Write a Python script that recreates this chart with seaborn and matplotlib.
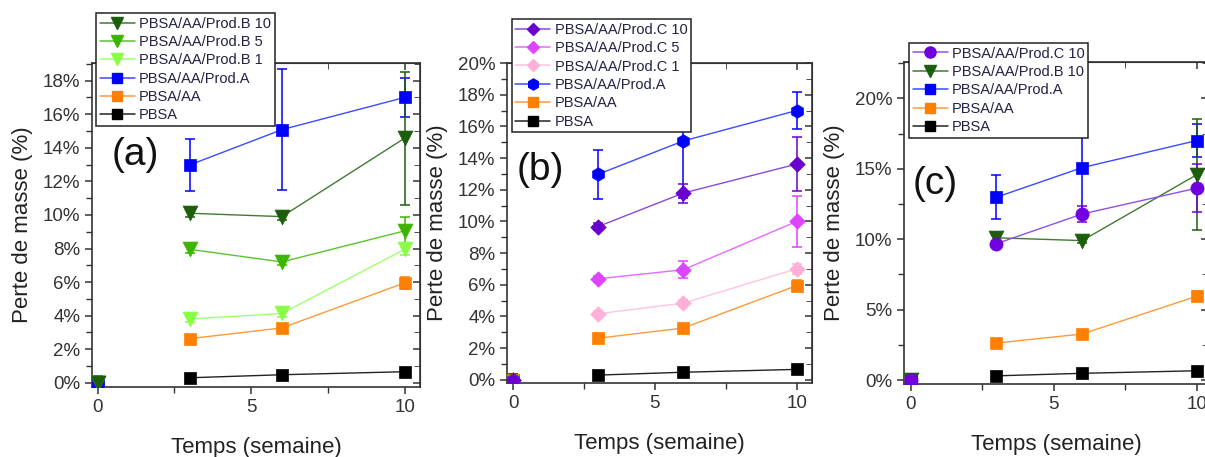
import pandas as pd
import matplotlib
matplotlib.use('Agg')
import matplotlib.pyplot as plt
import seaborn as sns
from matplotlib.lines import Line2D
from matplotlib.ticker import MultipleLocator, PercentFormatter

# mass loss (%) after 0, 3, 6 and 10 weeks
weeks = [0, 3, 6, 10]

pbsa = [0, 0.30, 0.48, 0.66]
pbsa_err = [0, 0.05, 0.05, 0.10]
pbsa_aa = [0, 2.63, 3.27, 5.95]
pbsa_aa_err = [0.1, 0.15, 0.15, 0.35]
prod_a = [0, 12.98, 15.08, 17.00]
prod_a_err = [0.4, 1.55, 3.60, 1.15]
prod_b1 = [0, 3.80, 4.13, 7.95]
prod_b1_err = [0, 0.20, 0.20, 0.35]
prod_b5 = [0, 7.95, 7.20, 9.05]
prod_b5_err = [0, 0.20, 0.20, 0.80]
prod_b10 = [0, 10.10, 9.90, 14.57]
prod_b10_err = [0, 0.20, 0.20, 3.95]
prod_c1 = [0, 4.17, 4.84, 7.01]
prod_c1_err = [0, 0.20, 0.20, 0.30]
prod_c5 = [0, 6.38, 6.95, 10.00]
prod_c5_err = [0, 0.20, 0.55, 1.60]
prod_c10 = [0, 9.68, 11.79, 13.62]
prod_c10_err = [0, 0.20, 0.60, 1.70]

sns.set_style('ticks')
plt.rcParams['font.family'] = ['Liberation Sans', 'DejaVu Sans']

# label, values, errors, marker, marker colour, line colour
panel_a = [
    ('PBSA/AA/Prod.B 10', prod_b10, prod_b10_err, 'v', '#1c5e0c', '#3f7b30'),
    ('PBSA/AA/Prod.B 5', prod_b5, prod_b5_err, 'v', '#3cb400', '#5cc232'),
    ('PBSA/AA/Prod.B 1', prod_b1, prod_b1_err, 'v', '#88ff44', '#a0ff70'),
    ('PBSA/AA/Prod.A', prod_a, prod_a_err, 's', '#0000ff', '#3a4cff'),
    ('PBSA/AA', pbsa_aa, pbsa_aa_err, 's', '#ff8000', '#ff9a3a'),
    ('PBSA', pbsa, pbsa_err, 's', '#000000', '#222222'),
]
panel_b = [
    ('PBSA/AA/Prod.C 10', prod_c10, prod_c10_err, 'D', '#6a00d0', '#8a48e4'),
    ('PBSA/AA/Prod.C 5', prod_c5, prod_c5_err, 'D', '#dd44ff', '#e46cff'),
    ('PBSA/AA/Prod.C 1', prod_c1, prod_c1_err, 'D', '#ffb0d8', '#ffc4e2'),
    ('PBSA/AA/Prod.A', prod_a, prod_a_err, 'h', '#0000ff', '#3a4cff'),
    ('PBSA/AA', pbsa_aa, pbsa_aa_err, 's', '#ff8000', '#ff9a3a'),
    ('PBSA', pbsa, pbsa_err, 's', '#000000', '#222222'),
]
panel_c = [
    ('PBSA/AA/Prod.C 10', prod_c10, prod_c10_err, 'o', '#7000dd', '#9050e8'),
    ('PBSA/AA/Prod.B 10', prod_b10, prod_b10_err, 'v', '#1c5e0c', '#3f7b30'),
    ('PBSA/AA/Prod.A', prod_a, prod_a_err, 's', '#0000ff', '#3a4cff'),
    ('PBSA/AA', pbsa_aa, pbsa_aa_err, 's', '#ff8000', '#ff9a3a'),
    ('PBSA', pbsa, pbsa_err, 's', '#000000', '#222222'),
]

marker_area = {'v': 115, 's': 72, 'D': 62, 'h': 95, 'o': 90}
legend_size = {'v': 8.5, 's': 7, 'D': 6.5, 'h': 8, 'o': 8}

fig = plt.figure(figsize=(12.05, 4.57), dpi=100)


def draw(rect, series, ylim, ymajor, yminor, xlim, tag, tagpos, legpos):
    ax = fig.add_axes(rect)
    handles = []
    for label, vals, errs, marker, color, lcolor in reversed(series):
        df = pd.DataFrame({'week': weeks, 'loss': vals, 'err': errs})
        later = df[df['week'] > 0]
        sns.lineplot(data=later, x='week', y='loss', color=lcolor, lw=1.0, ax=ax, legend=False)
        ax.errorbar(df['week'], df['loss'], yerr=df['err'], fmt='none', ecolor=color,
                    elinewidth=1.1, capsize=3.5, capthick=1.1, zorder=2)
        sns.scatterplot(data=df, x='week', y='loss', marker=marker, color=color,
                        s=marker_area[marker], edgecolor=color, linewidth=0.5, ax=ax,
                        zorder=3, legend=False)
    for label, vals, errs, marker, color, lcolor in series:
        handles.append(Line2D([], [], color=lcolor, lw=1.1, marker=marker, mfc=color,
                              mec=color, ms=legend_size[marker], label=label))

    ax.set_xlim(*xlim)
    ax.set_ylim(*ylim)
    ax.xaxis.set_major_locator(MultipleLocator(5))
    ax.xaxis.set_minor_locator(MultipleLocator(2.5))
    ax.yaxis.set_major_locator(MultipleLocator(ymajor))
    ax.yaxis.set_minor_locator(MultipleLocator(yminor))
    ax.yaxis.set_major_formatter(PercentFormatter(decimals=0))
    ax.tick_params(which='major', direction='out', length=5, width=1.1,
                   labelsize=13.5, labelcolor='#333333', color='#333333')
    ax.tick_params(which='minor', direction='out', length=4, width=1.0, color='#333333')
    for side in ['left', 'bottom', 'top', 'right']:
        ax.spines[side].set_visible(True)
        ax.spines[side].set_linewidth(1.2)
        ax.spines[side].set_color('#333333')

    top = ax.secondary_xaxis('top')
    top.xaxis.set_major_locator(MultipleLocator(5))
    top.xaxis.set_minor_locator(MultipleLocator(2.5))
    top.tick_params(which='both', direction='in', labeltop=False, color='#333333')
    top.tick_params(which='major', length=5, width=1.1)
    top.tick_params(which='minor', length=4)
    right = ax.secondary_yaxis('right')
    right.yaxis.set_major_locator(MultipleLocator(ymajor))
    right.yaxis.set_minor_locator(MultipleLocator(yminor))
    right.tick_params(which='both', direction='in', labelright=False, color='#333333')
    right.tick_params(which='major', length=5, width=1.1)
    right.tick_params(which='minor', length=4)

    ax.set_xlabel('Temps (semaine)', fontsize=16, color='#222222', labelpad=15)
    ax.set_ylabel('Perte de masse (%)', fontsize=16, color='#222222', labelpad=7)
    ax.text(tagpos[0], tagpos[1], tag, transform=ax.transAxes, fontsize=28,
            ha='center', va='center', color='#111111')

    leg = ax.legend(handles=handles, loc='upper left', bbox_to_anchor=legpos,
                    bbox_transform=fig.transFigure, borderaxespad=0, fontsize=10.5,
                    frameon=True, fancybox=False, framealpha=1, edgecolor='#222222',
                    handlelength=2.4, handletextpad=0.3, labelspacing=0.3, borderpad=0.25)
    leg.get_frame().set_linewidth(1.1)
    for t in leg.get_texts():
        t.set_color('#222244')
    leg.set_zorder(10)
    return ax


draw([0.0763, 0.1532, 0.2722, 0.7089], panel_a, (-0.25, 19.05), 2, 1, (-0.19, 10.5),
     '(a)', (0.131, 0.716), (0.0797, 0.9716))
draw([0.4207, 0.1619, 0.2531, 0.7002], panel_b, (-0.2, 20), 2, 1, (-0.22, 10.54),
     '(b)', (0.111, 0.666), (0.4246, 0.958))
draw([0.7502, 0.1597, 0.2523, 0.7053], panel_c, (-0.28, 22.6), 5, 2.5, (-0.23, 10.4),
     '(c)', (0.102, 0.62), (0.7544, 0.906))

fig.savefig('out.png', dpi=100)
